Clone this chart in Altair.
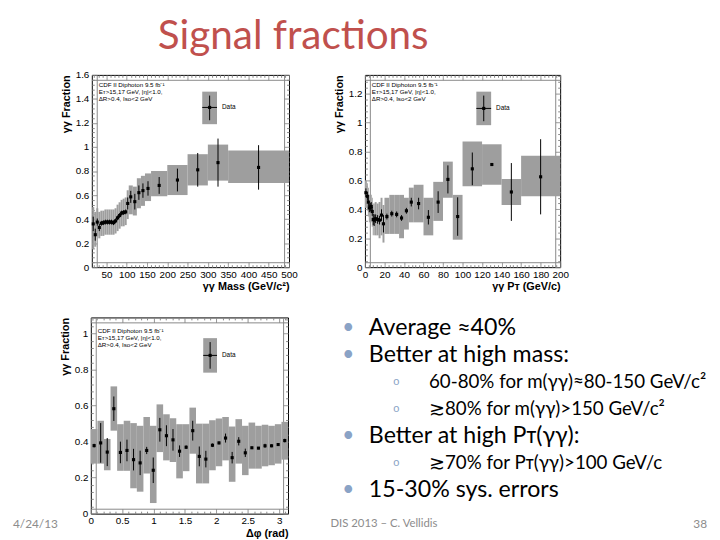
import altair as alt
import pandas as pd

# ---------------- data: diphoton mass ----------------
m_lo = [15, 20, 25, 30, 35, 40, 45, 50, 55, 60, 65, 70, 75, 80, 85, 90, 95,
        100, 105, 115, 125, 135, 145, 160, 200, 250, 300, 350]
m_hi = [20, 25, 30, 35, 40, 45, 50, 55, 60, 65, 70, 75, 80, 85, 90, 95, 100,
        105, 115, 125, 135, 145, 160, 200, 250, 300, 350, 500]
m_val = [0.36, 0.27, 0.375, 0.33, 0.365, 0.37, 0.375, 0.375, 0.375, 0.375, 0.37, 0.385,
         0.41, 0.43, 0.45, 0.455, 0.46, 0.53, 0.585, 0.545, 0.62, 0.637, 0.655, 0.68,
         0.725, 0.81, 0.87, 0.83]
m_stat = [0.06, 0.05, 0.03, 0.03, 0.02, 0.02, 0.02, 0.02, 0.02, 0.02, 0.02, 0.02,
          0.02, 0.02, 0.02, 0.02, 0.02, 0.05, 0.05, 0.065, 0.06, 0.06, 0.06, 0.07,
          0.095, 0.14, 0.2, 0.185]
m_sys_lo = [0.15, 0.17, 0.26, 0.24, 0.26, 0.26, 0.27, 0.27, 0.27, 0.27, 0.27, 0.28,
            0.30, 0.32, 0.34, 0.34, 0.35, 0.40, 0.44, 0.43, 0.49, 0.51, 0.55, 0.59,
            0.60, 0.68, 0.72, 0.70]
m_sys_hi = [0.50, 0.46, 0.49, 0.46, 0.47, 0.47, 0.48, 0.48, 0.48, 0.48, 0.48, 0.49,
            0.52, 0.54, 0.56, 0.57, 0.58, 0.64, 0.68, 0.67, 0.74, 0.76, 0.78, 0.80,
            0.85, 0.94, 1.02, 0.97]

# ---------------- data: diphoton pT ----------------
pt_lo = [0, 2, 3, 4, 5, 6, 7, 8, 9, 10, 12, 14, 16, 18, 20, 25, 30, 35, 40, 45,
         50, 60, 70, 80, 90, 100, 120, 140, 160]
pt_hi = [2, 3, 4, 5, 6, 7, 8, 9, 10, 12, 14, 16, 18, 20, 25, 30, 35, 40, 45, 50,
         60, 70, 80, 90, 100, 120, 140, 160, 200]
pt_val = [0.515, 0.49, 0.45, 0.41, 0.415, 0.42, 0.385, 0.33, 0.325, 0.335, 0.33, 0.325,
          0.36, 0.30, 0.35, 0.37, 0.365, 0.34, 0.39, 0.45, 0.44, 0.345, 0.45, 0.607,
          0.35, 0.68, 0.71, 0.52, 0.625]
pt_stat = [0.03, 0.03, 0.03, 0.03, 0.03, 0.03, 0.03, 0.04, 0.04, 0.03, 0.03, 0.03,
           0.04, 0.06, 0.02, 0.02, 0.02, 0.02, 0.02, 0.03, 0.04, 0.05, 0.075, 0.097,
           0.133, 0.113, 0.008, 0.2, 0.26]
pt_sys_lo = [0.41, 0.39, 0.35, 0.31, 0.31, 0.31, 0.28, 0.22, 0.22, 0.22, 0.22, 0.20,
             0.22, 0.17, 0.23, 0.23, 0.23, 0.20, 0.26, 0.31, 0.31, 0.22, 0.32, 0.48,
             0.19, 0.56, 0.57, 0.43, 0.49]
pt_sys_hi = [0.60, 0.58, 0.55, 0.50, 0.50, 0.50, 0.48, 0.44, 0.44, 0.45, 0.44, 0.45,
             0.48, 0.43, 0.48, 0.50, 0.50, 0.50, 0.48, 0.55, 0.57, 0.48, 0.59, 0.73,
             0.50, 0.87, 0.85, 0.61, 0.77]

# ---------------- data: delta phi ----------------
dphi_edges = [0.0, 0.105, 0.209, 0.314, 0.419, 0.524, 0.628, 0.733, 0.838, 0.942, 1.047,
              1.152, 1.257, 1.361, 1.466, 1.571, 1.676, 1.780, 1.885, 1.990, 2.094,
              2.199, 2.304, 2.409, 2.513, 2.618, 2.723, 2.827, 2.932, 3.037, 3.142]
dphi_val = [0.378, 0.393, 0.342, 0.583, 0.34, 0.351, 0.30, 0.282, 0.351, 0.241, 0.466,
            0.433, 0.41, 0.347, 0.369, 0.461, 0.318, 0.303, 0.38, 0.393, 0.42, 0.311,
            0.402, 0.338, 0.366, 0.364, 0.377, 0.377, 0.384, 0.406]
dphi_stat = [0.01, 0.11, 0.078, 0.068, 0.06, 0.06, 0.06, 0.068, 0.02, 0.071, 0.066,
             0.058, 0.06, 0.032, 0.01, 0.055, 0.055, 0.046, 0.01, 0.008, 0.025, 0.032,
             0.023, 0.023, 0.006, 0.006, 0.011, 0.008, 0.005, 0.01]
dphi_sys_lo = [0.278, 0.278, 0.241, 0.461, 0.238, 0.238, 0.141, 0.122, 0.223, 0.059,
               0.342, 0.296, 0.287, 0.196, 0.236, 0.333, 0.168, 0.168, 0.241, 0.263,
               0.296, 0.177, 0.278, 0.214, 0.25, 0.25, 0.263, 0.269, 0.278, 0.30]
dphi_sys_hi = [0.47, 0.516, 0.415, 0.707, 0.497, 0.516, 0.503, 0.488, 0.537, 0.488,
               0.607, 0.552, 0.53, 0.497, 0.497, 0.589, 0.5, 0.5, 0.519, 0.528, 0.537,
               0.484, 0.525, 0.488, 0.506, 0.488, 0.494, 0.488, 0.497, 0.51]

# ---------------- axis ticks: (first, last, major step, minor step) ----------------
m_xticks = (20, 500, 50, 10)
m_yticks = (0, 1.6, 0.2, 0.04)
pt_xticks = (0, 200, 20, 4)
pt_yticks = (0, 1.32, 0.2, 0.04)
dphi_xticks = (0, 3.1, 0.5, 0.1)
dphi_yticks = (0, 1.08, 0.2, 0.04)

# ---------------- slide text ----------------
slide_title = "Signal fractions"
bullet_lines = [
    "Average ≈40%",
    "Better at high mass:",
    "60-80% for m(γγ)≈80-150 GeV/c²",
    "≳80% for m(γγ)>150 GeV/c²",
    "Better at high Pᴛ(γγ):",
    "≳70% for Pᴛ(γγ)>100 GeV/c",
    "15-30% sys. errors",
]
bullet_levels = [0, 0, 1, 1, 0, 1, 0]
footer_date = "4/24/13"
footer_mid = "DIS 2013 – C. Vellidis"
footer_page = "38"
cdf_label = "CDF II Diphoton  9.5 fb⁻¹\nEᴛ>15,17 GeV, |η|<1.0,\nΔR>0.4, Iso<2 GeV"

GRAY = "#9e9e9e"
AXFONT = "Liberation Sans"
TICK = 5


def tick_values(spec):
    first, last, _major, minor = spec
    n = int(round((last - first) / minor))
    return [round(first + i * minor, 4) for i in range(n + 1)]


def is_major(major):
    return f"abs(datum.value / {major} - round(datum.value / {major})) < 1e-6"


def axis_pair(spec, title, orient_main, orient_other, label_pad, title_pad):
    vals = tick_values(spec)
    major = spec[2]
    dash = {"condition": {"test": f"!({is_major(major)})", "value": [0, 2.5, 6]},
            "value": [1, 0]}
    main = alt.Axis(values=vals, orient=orient_main, grid=False,
                    labelExpr=f"{is_major(major)} ? format(datum.value, '.1~f') : ''",
                    title=title, titleAnchor="end", offset=-TICK, tickSize=TICK,
                    tickDash=dash, labelPadding=label_pad, titlePadding=title_pad,
                    labelFlush=False)
    other = alt.Axis(values=vals, orient=orient_other, grid=False, labels=False,
                     title="", offset=-TICK, tickSize=TICK, tickDash=dash)
    return main, other


def frame_df(lo, hi, val, stat, slo, shi):
    return pd.DataFrame({"lo": lo, "hi": hi, "v": val, "stat": stat,
                         "slo": slo, "shi": shi})


def physics_panel(df, xdom, ydom, xticks, yticks, xtitle, w, h, leg, ann_y):
    xs = alt.Scale(domain=xdom, nice=False, zero=False)
    ys = alt.Scale(domain=ydom, nice=False, zero=False)
    base = alt.Chart(df).transform_calculate(
        c="(datum.lo + datum.hi) / 2",
        elo="datum.v - datum.stat",
        ehi="datum.v + datum.stat",
    )
    xaxis, xaxis2 = axis_pair(xticks, xtitle, "bottom", "top", 2, 2)
    yaxis, yaxis2 = axis_pair(yticks, "γγ Fraction", "left", "right", 3, 4)
    boxes = base.mark_rect(color=GRAY).encode(
        x=alt.X("lo:Q", scale=xs, axis=xaxis), x2="hi:Q",
        y=alt.Y("slo:Q", scale=ys, axis=yaxis), y2="shi:Q")
    errs = base.mark_rule(color="black", strokeWidth=1).encode(
        x=alt.X("c:Q", scale=xs, axis=xaxis2),
        y=alt.Y("elo:Q", scale=ys, axis=yaxis2), y2="ehi:Q")
    pts = base.mark_square(color="black", size=10, opacity=1).encode(
        x=alt.X("c:Q", scale=xs, axis=None), y=alt.Y("v:Q", scale=ys, axis=None))

    one = alt.Chart(pd.DataFrame({"k": [0]}))
    bx0, bx1, by0, by1, px, py = leg
    lbox = one.mark_rect(color=GRAY).encode(
        x=alt.value(bx0), x2=alt.value(bx1), y=alt.value(by0), y2=alt.value(by1))
    lv = one.mark_rule(color="black").encode(
        x=alt.value(px), y=alt.value(by0 + 4), y2=alt.value(by1 - 4))
    lh = one.mark_rule(color="black").encode(
        x=alt.value(bx0), x2=alt.value(bx1), y=alt.value(py))
    lp = one.mark_square(color="black", size=10, opacity=1).encode(
        x=alt.value(px), y=alt.value(py))
    lt = one.mark_text(align="left", baseline="middle", font=AXFONT, fontSize=6.5,
                       color="black").encode(
        x=alt.value(bx1 + 5), y=alt.value(py), text=alt.value("Data"))
    ann = one.mark_text(align="left", baseline="top", font=AXFONT, fontSize=6.3,
                        lineBreak="\n", lineHeight=7, color="black").encode(
        x=alt.value(7), y=alt.value(ann_y), text=alt.value(cdf_label))

    return alt.layer(boxes, errs, pts, lbox, lv, lh, lp, lt, ann).resolve_axis(
        x="independent", y="independent"
    ).properties(width=w, height=h,
                 view=alt.ViewBackground(stroke="black", strokeWidth=1))


df_m = frame_df(m_lo, m_hi, m_val, m_stat, m_sys_lo, m_sys_hi)
df_pt = frame_df(pt_lo, pt_hi, pt_val, pt_stat, pt_sys_lo, pt_sys_hi)
df_dphi = frame_df(dphi_edges[:-1], dphi_edges[1:], dphi_val, dphi_stat,
                   dphi_sys_lo, dphi_sys_hi)

p1 = physics_panel(df_m, [14, 500], [0, 1.6], m_xticks, m_yticks,
                   "γγ Mass (GeV/c²)", 200, 195, (112, 127, 17, 50, 119.5, 33), 7)
p2 = physics_panel(df_pt, [0, 200], [0, 1.33], pt_xticks, pt_yticks,
                   "γγ Pᴛ (GeV/c)", 198, 195, (113, 128, 17, 51, 120.5, 34), 7)
p3 = physics_panel(df_dphi, [0, 3.1416], [0, 1.09], dphi_xticks, dphi_yticks,
                   "Δφ (rad)", 200, 199, (114, 128, 21, 56, 121, 38.5), 11)

one = alt.Chart(pd.DataFrame({"k": [0]}))
spacer = one.mark_text(text="").encode(x=alt.value(0), y=alt.value(0)).properties(
    width=3, height=195, view=alt.ViewBackground(strokeOpacity=0))

datepanel = one.mark_text(align="left", baseline="middle", font="Lato", fontSize=12,
                          color="#8c8c8c").encode(
    x=alt.value(0), y=alt.value(210), text=alt.value(footer_date)
).properties(width=69, height=199, view=alt.ViewBackground(strokeOpacity=0))

# text panel
lines_df = pd.DataFrame({"text": bullet_lines, "level": bullet_levels,
                         "row": list(range(len(bullet_lines)))})
tb = alt.Chart(lines_df)
xs_t = alt.Scale(domain=[-1.04, 7.43], nice=False, zero=False)
ys_t = alt.Scale(domain=[-0.4024, 7.464], nice=False, zero=False, reverse=True)
enc = dict(x=alt.X("level:Q", scale=xs_t, axis=None),
           y=alt.Y("row:Q", scale=ys_t, axis=None))
main_b = tb.transform_filter("datum.level == 0").mark_text(
    text="•", fontSize=21, color="#8aa3c6", font="Lato", baseline="middle").encode(**enc)
main_t = tb.transform_filter("datum.level == 0").mark_text(
    align="left", baseline="middle", dx=21, font="Lato", fontSize=23.5,
    color="black").encode(text="text:N", **enc)
sub_b = tb.transform_filter("datum.level == 1").mark_text(
    text="o", fontSize=11, color="#8aa3c6", font="Lato", baseline="middle").encode(**enc)
sub_t = tb.transform_filter("datum.level == 1").mark_text(
    align="left", baseline="middle", dx=33, font="Lato", fontSize=19,
    color="black").encode(text="text:N", **enc)
foot_mid = one.mark_text(align="left", baseline="middle", font="Lato", fontSize=11.5,
                         color="#8c8c8c").encode(
    x=alt.value(33), y=alt.value(210), text=alt.value(footer_mid))
foot_pg = one.mark_text(align="right", baseline="middle", font="Lato", fontSize=12,
                        color="#8c8c8c").encode(
    x=alt.value(415), y=alt.value(210), text=alt.value(footer_page))
textpanel = alt.layer(main_b, main_t, sub_b, sub_t, foot_mid, foot_pg).properties(
    width=415, height=215, view=alt.ViewBackground(strokeOpacity=0))

row1 = alt.hconcat(spacer, p1, p2, spacing=77, bounds="flush")
row2 = alt.hconcat(datepanel, p3, textpanel, spacing=10, bounds="flush")

chart = alt.vconcat(row1, row2, spacing=23).properties(
    title=alt.TitleParams(slide_title, font="Lato", fontSize=41, fontWeight="normal",
                          color="#C0504D", anchor="start", dx=147, offset=11)
).configure_view(stroke="black", strokeWidth=1).configure_axis(
    grid=False, domain=False, tickColor="black", labelColor="black", titleColor="black",
    labelFont=AXFONT, labelFontWeight="bold", labelFontSize=8.5,
    titleFont=AXFONT, titleFontWeight="bold", titleFontSize=8.5
).configure(background="white")

chart.save("out.html", embed_options={"renderer": "svg", "actions": False})
